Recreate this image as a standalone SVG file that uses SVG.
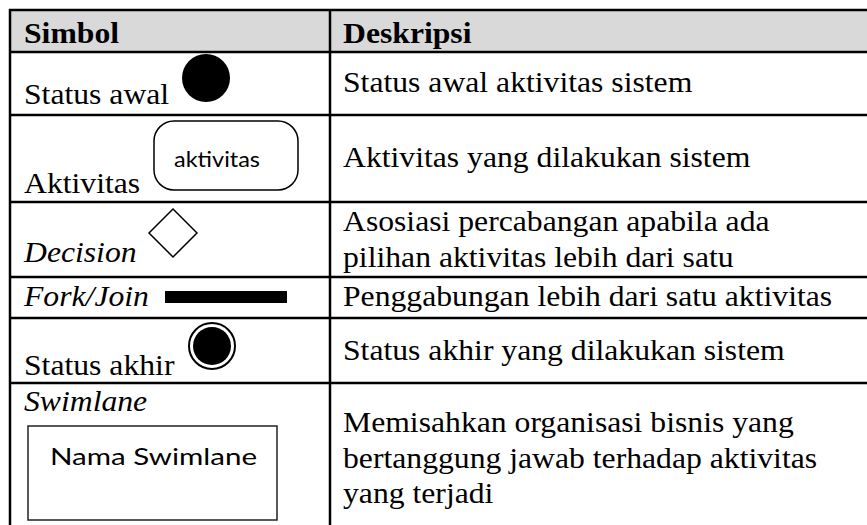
<svg xmlns="http://www.w3.org/2000/svg" width="867" height="525" viewBox="0 0 867 525">
  <style>
    .serif { font-family: "Liberation Serif", "Times New Roman", serif; font-size: 29px; fill: #000; }
    .bold { font-weight: bold; }
    .ital { font-style: italic; }
    .sans { font-family: Lato, "Open Sans", sans-serif; fill: #000; }
    .grid { stroke: #000; stroke-width: 2.5; fill: none; }
    .shape { stroke: #000; fill: none; stroke-width: 1.5; }
  </style>

  <!-- header band -->
  <rect x="9" y="9" width="858" height="43" fill="#d9d9d9"/>

  <!-- table rules -->
  <g id="grid" class="grid">
    <line x1="9" y1="10" x2="867" y2="10"/>
    <line x1="9" y1="52" x2="867" y2="52"/>
    <line x1="9" y1="115" x2="867" y2="115"/>
    <line x1="9" y1="202" x2="867" y2="202"/>
    <line x1="9" y1="277" x2="867" y2="277"/>
    <line x1="9" y1="318" x2="867" y2="318"/>
    <line x1="9" y1="383" x2="867" y2="383"/>
    <line x1="10" y1="9" x2="10" y2="525"/>
    <line x1="330" y1="9" x2="330" y2="525"/>
  </g>

  <g id="header">
    <text class="serif bold" transform="translate(24,43) scale(1.093,1)">Simbol</text>
    <text class="serif bold" transform="translate(343,43) scale(1.093,1)">Deskripsi</text>
  </g>

  <g id="row-status-awal">
    <text class="serif" transform="translate(24,104) scale(1.093,1)">Status awal</text>
    <circle cx="206" cy="78" r="24" fill="#000"/>
    <text class="serif" transform="translate(343,92) scale(1.093,1)">Status awal aktivitas sistem</text>
  </g>

  <g id="row-aktivitas">
    <text class="serif" transform="translate(24,193) scale(1.093,1)">Aktivitas</text>
    <rect class="shape" x="154" y="121" width="144" height="69" rx="20" ry="20" stroke-width="1.3"/>
    <text class="sans" x="174" y="167" font-size="21" textLength="86" lengthAdjust="spacingAndGlyphs">aktivitas</text>
    <text class="serif" transform="translate(343,167) scale(1.093,1)">Aktivitas yang dilakukan sistem</text>
  </g>

  <g id="row-decision">
    <text class="serif ital" transform="translate(24,262) scale(1.093,1)">Decision</text>
    <polygon class="shape" points="173,209 197,233 173,257 149,233"/>
    <text class="serif" transform="translate(343,231) scale(1.093,1)">Asosiasi percabangan apabila ada</text>
    <text class="serif" transform="translate(343,267) scale(1.093,1)">pilihan aktivitas lebih dari satu</text>
  </g>

  <g id="row-fork-join">
    <text class="serif ital" transform="translate(24,306) scale(1.093,1)">Fork/Join</text>
    <rect x="165" y="291" width="122" height="12" fill="#000"/>
    <text class="serif" transform="translate(343,306) scale(1.093,1)">Penggabungan lebih dari satu aktivitas</text>
  </g>

  <g id="row-status-akhir">
    <text class="serif" transform="translate(24,375) scale(1.093,1)">Status akhir</text>
    <circle cx="212" cy="346" r="23" fill="none" stroke="#000" stroke-width="2"/>
    <circle cx="212" cy="346" r="19" fill="#000"/>
    <text class="serif" transform="translate(343,360) scale(1.093,1)">Status akhir yang dilakukan sistem</text>
  </g>

  <g id="row-swimlane">
    <text class="serif ital" transform="translate(24,411) scale(1.093,1)">Swimlane</text>
    <rect x="28" y="426" width="249" height="94" fill="none" stroke="#222" stroke-width="1.5"/>
    <text class="sans" x="50" y="465" font-size="23" textLength="207" lengthAdjust="spacingAndGlyphs">Nama Swimlane</text>
    <text class="serif" transform="translate(343,432) scale(1.093,1)">Memisahkan organisasi bisnis yang</text>
    <text class="serif" transform="translate(343,468) scale(1.093,1)">bertanggung jawab terhadap aktivitas</text>
    <text class="serif" transform="translate(343,503) scale(1.093,1)">yang terjadi</text>
  </g>
</svg>
